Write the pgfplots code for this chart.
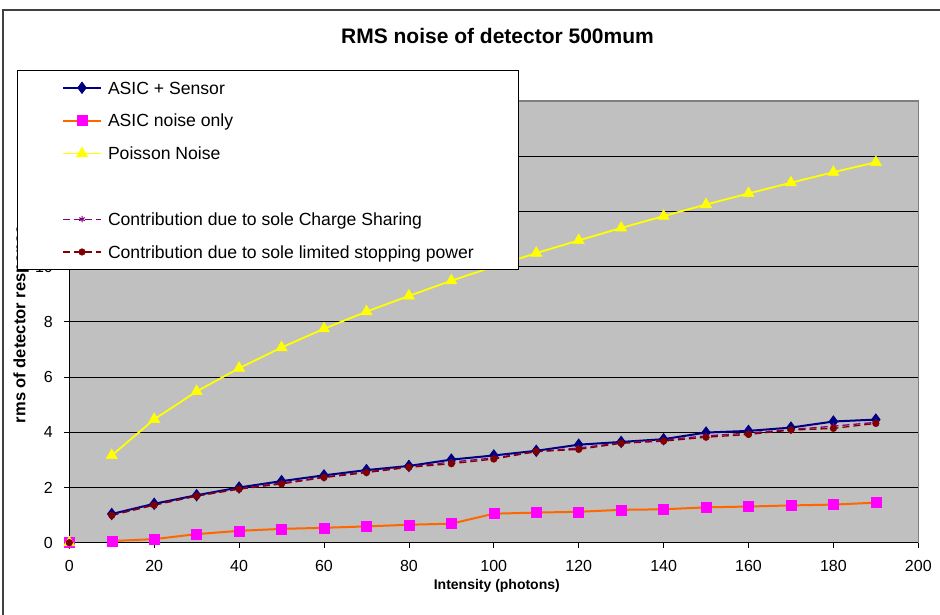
\documentclass[border=0pt]{standalone}
\usepackage{pgfplots}
\pgfplotsset{compat=1.18}
\usepackage{fontspec}
\setmainfont{Liberation Sans}
\definecolor{navyc}{RGB}{0,0,128}
\definecolor{orangec}{RGB}{255,102,0}
\definecolor{magentac}{RGB}{255,0,255}
\definecolor{yellowc}{RGB}{255,255,0}
\definecolor{purplec}{RGB}{128,0,128}
\definecolor{maroonc}{RGB}{128,0,0}
\definecolor{plotgray}{RGB}{192,192,192}
\definecolor{bordergray}{RGB}{128,128,128}
\begin{document}
\begin{tikzpicture}[x=1pt,y=1pt]
\useasboundingbox (0,0) rectangle (940,615);
\fill[white] (0,0) rectangle (940,615);
\draw[line width=2pt, draw=black!75] (2.5,0) -- (2.5,605) -- (940,605);
\begin{axis}[
  scale only axis, width=849pt, height=441.7pt,
  at={(69.3pt,72.3pt)}, anchor=south west,
  xmin=0, xmax=200, ymin=0, ymax=16,
  xtick={0,20,...,200}, ytick={0,2,...,16},
  axis background/.style={fill=plotgray},
  ymajorgrids, major grid style={black, line width=0.8pt},
  axis line style={black, line width=1pt},
  tick align=outside, major tick length=5pt, tick style={black, line width=0.8pt},
  xtick pos=bottom, ytick pos=left,
  ticklabel style={font=\fontsize{16}{19}\selectfont},
  /pgf/number format/assume math mode=true,
  xticklabel style={inner sep=0pt, yshift=-12pt},
  yticklabel style={inner sep=0pt, xshift=-11.3pt},
  clip=false, unbounded coords=jump,
  title={RMS noise of detector 500mum},
  title style={at={(rel axis cs:0.5,1)}, anchor=base, yshift=51pt, xshift=3.7pt, font=\bfseries\fontsize{21}{25}\selectfont},
  xlabel={Intensity (photons)},
  xlabel style={at={(rel axis cs:0.5,0)}, anchor=base, yshift=-47.3pt, xshift=3pt, font=\bfseries\fontsize{14}{16}\selectfont},
  ylabel={rms of detector response},
  ylabel style={at={(rel axis cs:-0.0569,0.495)}, anchor=center, font=\bfseries\fontsize{16.5}{19}\selectfont},
  legend style={at={(-0.0616,1.0702)}, anchor=north west, draw=black, line width=1pt, fill=white,
    inner xsep=44.5pt, inner ysep=11pt, row sep=20.2pt, column sep=6pt,
    font=\fontsize{17.6}{20}\selectfont,
    nodes={inner sep=0pt, text height=12.6pt, text depth=0pt}},
  legend cell align=left,
  legend image code/.code={\draw[mark repeat=2,mark phase=2,#1] plot coordinates {(0pt,0pt) (19pt,0pt) (38pt,0pt)};},
]
\addplot[navyc, line width=2pt, mark=diamond*, mark size=5.5pt, mark options={fill=navyc, solid, line width=1pt}] coordinates {
(0,0) (5,nan) (10,1.04) (20,1.41) (30,1.72) (40,2.0) (50,2.23) (60,2.44) (70,2.63) (80,2.78) (90,3.01) (100,3.16) (110,3.33) (120,3.55) (130,3.65) (140,3.75) (150,3.99) (160,4.05) (170,4.17) (180,4.39) (190,4.46)};
\addlegendentry{ASIC + Sensor}
\addplot[orangec, line width=2pt, mark=square*, mark size=5pt, mark options={draw=magentac, fill=magentac, solid, line width=0.5pt}] coordinates {
(0,0) (5,nan) (10,0.06) (20,0.13) (30,0.31) (40,0.43) (50,0.5) (60,0.54) (70,0.59) (80,0.65) (90,0.69) (100,1.05) (110,1.09) (120,1.12) (130,1.19) (140,1.21) (150,1.28) (160,1.31) (170,1.35) (180,1.38) (190,1.45)};
\addlegendentry{ASIC noise only}
\addplot[yellowc, line width=1.8pt, mark=triangle*, mark size=6.5pt, mark options={fill=yellowc, solid, line width=0.5pt}] coordinates {
(0,0) (5,nan) (10,3.16) (20,4.47) (30,5.48) (40,6.32) (50,7.07) (60,7.75) (70,8.37) (80,8.94) (90,9.49) (100,10.0) (110,10.49) (120,10.95) (130,11.4) (140,11.83) (150,12.25) (160,12.65) (170,13.04) (180,13.42) (190,13.78)};
\addlegendentry{Poisson Noise}
\addlegendimage{empty legend}
\addlegendentry{}
\addplot[purplec, line width=1.3pt, dash pattern=on 7pt off 4pt, mark=asterisk, mark size=3.2pt, mark options={solid, line width=1pt}] coordinates {
(0,0) (5,nan) (10,1.0) (20,1.37) (30,1.69) (40,1.96) (50,2.16) (60,2.38) (70,2.57) (80,2.75) (90,2.92) (100,3.07) (110,3.3) (120,3.43) (130,3.62) (140,3.72) (150,3.87) (160,3.97) (170,4.1) (180,4.22) (190,4.36)};
\addlegendentry{Contribution due to sole Charge Sharing}
\addplot[maroonc, line width=1.3pt, dash pattern=on 7pt off 4pt, mark=*, mark size=3.3pt, mark options={solid, fill=maroonc, line width=0.5pt}] coordinates {
(0,0) (5,nan) (10,0.99) (20,1.36) (30,1.69) (40,1.94) (50,2.13) (60,2.36) (70,2.54) (80,2.73) (90,2.86) (100,3.03) (110,3.3) (120,3.38) (130,3.6) (140,3.68) (150,3.82) (160,3.92) (170,4.08) (180,4.14) (190,4.32)};
\addlegendentry{Contribution due to sole limited stopping power}
\draw[bordergray, line width=1.5pt] (rel axis cs:0.53,1) -- (rel axis cs:1,1) -- (rel axis cs:1,0);
\end{axis}
\end{tikzpicture}
\end{document}
